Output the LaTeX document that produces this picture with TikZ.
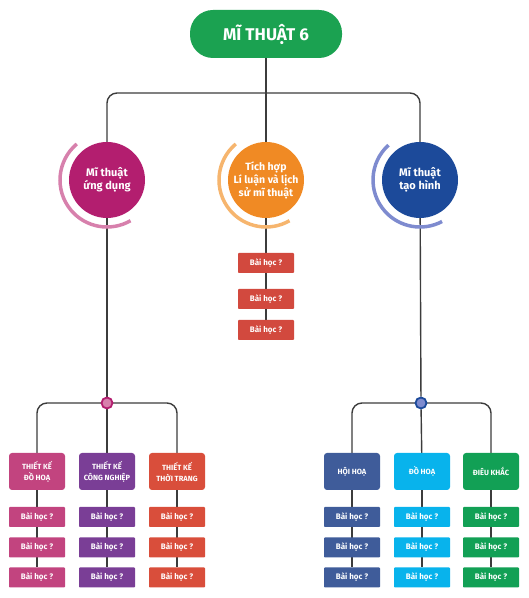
\documentclass[tikz,border=0pt]{standalone}
\usepackage{fontspec}
\setmainfont{Fira Sans}
\usetikzlibrary{backgrounds}

\definecolor{titlegreen}{HTML}{1BA251}
\definecolor{ungdung}{HTML}{B31E6F}
\definecolor{ungdunglight}{HTML}{D780AC}
\definecolor{lichsu}{HTML}{F08A24}
\definecolor{lichsulight}{HTML}{F6B56E}
\definecolor{taohinh}{HTML}{1C4A9A}
\definecolor{taohinhlight}{HTML}{7E8BCF}
\definecolor{lessonred}{HTML}{D2493E}
\definecolor{dohoa}{HTML}{C2447F}
\definecolor{congnghiep}{HTML}{7A3E96}
\definecolor{thoitrang}{HTML}{D94E3B}
\definecolor{hoihoa}{HTML}{3F5C9A}
\definecolor{dohoab}{HTML}{08B3EC}
\definecolor{dieukhac}{HTML}{12A055}
\definecolor{linegrey}{HTML}{3C3C3C}

\tikzset{
  title/.style={fill=titlegreen, text=white, rounded corners=23pt,
    minimum width=152pt, minimum height=48pt,
    font=\fontsize{17}{19}\selectfont\bfseries},
  bigcircle/.style={circle, fill=#1, text=white, minimum size=76pt,
    inner sep=0pt, align=center, font=\fontsize{11}{13.5}\selectfont\bfseries},
  halo/.style={line width=3.5pt, draw=#1},
  groupbox/.style={fill=#1, text=white, rounded corners=3pt,
    minimum width=56pt, minimum height=37pt, inner sep=1pt, align=center,
    font=\fontsize{7.5}{11}\selectfont\bfseries},
  lesson/.style={fill=#1, text=white, rounded corners=0.8pt,
    minimum width=56pt, minimum height=20pt, inner sep=0pt,
    font=\fontsize{8}{9}\selectfont\bfseries},
  joint/.style 2 args={circle, fill=#1, draw=#2, line width=1.8pt,
    minimum size=11pt, inner sep=0pt},
  link/.style={draw=linegrey, line width=1.4pt},
}

\begin{document}
\begin{tikzpicture}[x=1pt,y=1pt]
  \useasboundingbox (0,0) rectangle (529,598);

  \node[title] (top) at (266,564) {MĨ THUẬT 6};
  \coordinate (bus) at (266,505);

  \node[bigcircle=ungdung] (L) at (107,418) {Mĩ thuật\\ứng dụng};
  \node[bigcircle=lichsu, font=\fontsize{10.5}{13}\selectfont\bfseries] (M) at (266,418)
    {Tích hợp\\Lí luận và lịch\\sử mĩ thuật};
  \node[bigcircle=taohinh] (R) at (420,418) {Mĩ thuật\\tạo hình};

  \draw[halo=ungdunglight] ([shift={(130:47pt)}]L.center) arc[start angle=130, end angle=300, radius=47pt];
  \draw[halo=lichsulight] ([shift={(130:47pt)}]M.center) arc[start angle=130, end angle=300, radius=47pt];
  \draw[halo=taohinhlight] ([shift={(132:47pt)}]R.center) arc[start angle=132, end angle=298, radius=47pt];

  \node[lesson=lessonred] (m1) at (266,335) {Bài học ?};
  \node[lesson=lessonred] (m2) at (266,299) {Bài học ?};
  \node[lesson=lessonred] (m3) at (266,268) {Bài học ?};

  \node[joint={ungdunglight}{ungdung}] (dl) at (107,195) {};
  \node[joint={taohinhlight}{taohinh}] (dr) at (421,195) {};

  \node[groupbox=dohoa] (g1) at (37,126.5) {THIẾT KẾ\\ĐỒ HOẠ};
  \node[groupbox=congnghiep] (g2) at (107,126.5) {THIẾT KẾ\\CÔNG NGHIỆP};
  \node[groupbox=thoitrang] (g3) at (177,126.5) {THIẾT KẾ\\THỜI TRANG};
  \node[groupbox=hoihoa] (g4) at (352,126.5) {HỘI HOẠ};
  \node[groupbox=dohoab] (g5) at (422,126.5) {ĐỒ HOẠ};
  \node[groupbox=dieukhac] (g6) at (491,126.5) {ĐIÊU KHẮC};

  \foreach \g/\x/\c in {1/37/dohoa, 2/107/congnghiep, 3/177/thoitrang,
                        4/352/hoihoa, 5/422/dohoab, 6/491/dieukhac} {
    \node[lesson=\c] (g\g a) at (\x,81) {Bài học ?};
    \node[lesson=\c] (g\g b) at (\x,50.5) {Bài học ?};
    \node[lesson=\c] (g\g c) at (\x,20.5) {Bài học ?};
  }

  \begin{scope}[on background layer]
    \draw[link] (top) -- (M);
    \draw[link, rounded corners=10pt] (L) |- (bus) -| (R);
    \draw[link] (M) -- (m3);
    \draw[link] (L) -- (dl);
    \draw[link] (R) -- (dr);
    \draw[link, rounded corners=10pt] (g1) |- (dl.center) -| (g3);
    \draw[link] (dl) -- (g2);
    \draw[link, rounded corners=10pt] (g4) |- (dr.center) -| (g6);
    \draw[link] (dr) -- (g5);
    \foreach \g in {1,...,6}
      \draw[link] (g\g) -- (g\g c);
  \end{scope}

\end{tikzpicture}
\end{document}
